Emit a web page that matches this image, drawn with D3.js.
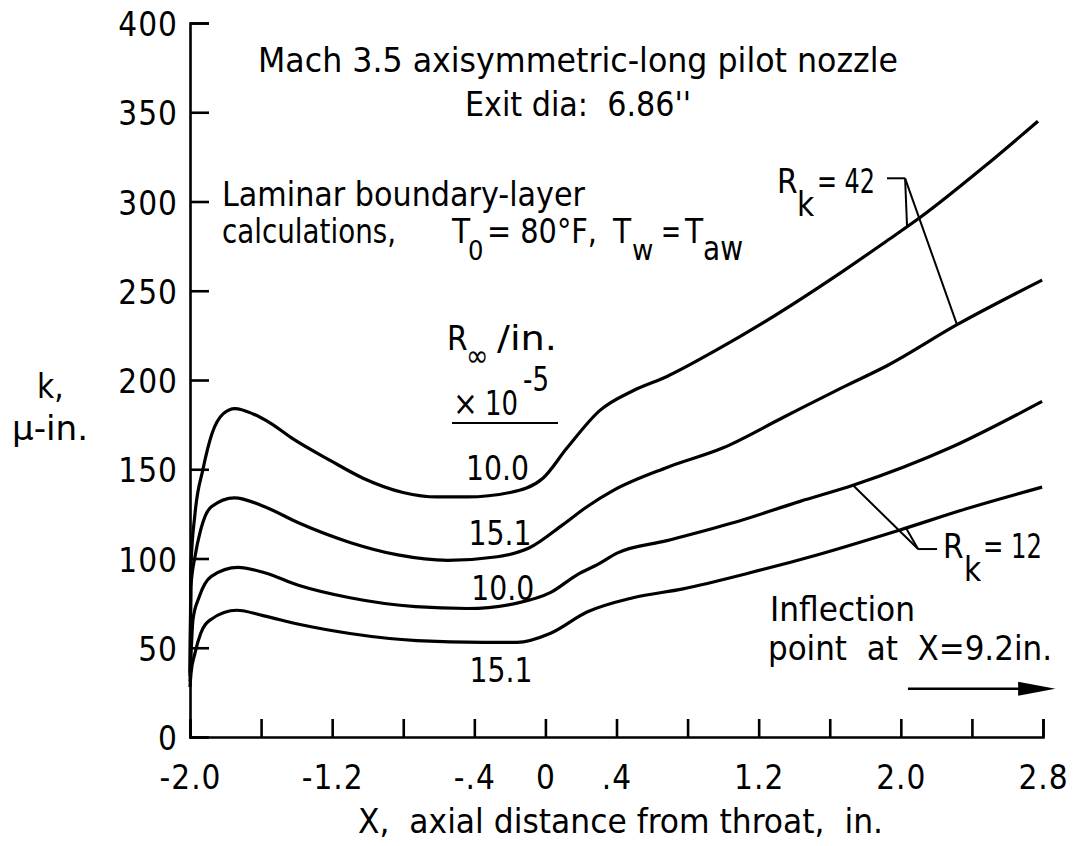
<!DOCTYPE html>
<html>
<head>
<meta charset="utf-8">
<script src="https://cdn.jsdelivr.net/npm/d3@7"></script>
<style>
  html, body { margin: 0; padding: 0; background: #fff; }
  svg { display: block; }
  text { font-family: "DejaVu Sans Condensed", "Liberation Sans Narrow", "DejaVu Sans", sans-serif; fill: #000; white-space: pre; }
</style>
</head>
<body>
<script>
// axis ticks
const xTickValues = [-2.0, -1.6, -1.2, -0.8, -0.4, 0, 0.4, 0.8, 1.2, 1.6, 2.0, 2.4, 2.8]
const xLabelValues = [-2.0, -1.2, -0.4, 0, 0.4, 1.2, 2.0, 2.8]
const xLabelText = ["-2.0", "-1.2", "-.4", "0", ".4", "1.2", "2.0", "2.8"]
const yTickValues = [0, 50, 100, 150, 200, 250, 300, 350, 400]

// k (micro-in.) vs X (in.)
// R_inf/in. = 10.0e5, Rk = 42
const series42a = [[-2.0, 36], [-1.995, 95], [-1.972, 125], [-1.927, 150], [-1.876, 170], [-1.814, 181],
    [-1.747, 184], [-1.645, 181], [-1.55, 176], [-1.42, 167], [-1.212, 155], [-1.026, 145], [-0.801, 137],
    [-0.61, 134.5], [-0.441, 134.5], [-0.199, 137], [-0.014, 145], [0.122, 162], [0.307, 183], [0.493, 194],
    [0.684, 202], [0.966, 217], [1.224, 232], [1.675, 261], [1.922, 278], [2.108, 291], [2.463, 319], [2.772, 345]]
// R_inf/in. = 15.1e5, Rk = 42
const series42b = [[-2.0, 34], [-1.995, 84], [-1.972, 101], [-1.94, 116], [-1.88, 129], [-1.75, 134],
    [-1.58, 129], [-1.39, 120], [-1.10, 109], [-0.83, 102], [-0.55, 99], [-0.27, 101], [-0.09, 106],
    [0.099, 119], [0.234, 129], [0.38, 138], [0.684, 151], [1.0, 162], [1.337, 179], [1.675, 196],
    [1.922, 208], [2.316, 231], [2.795, 256]]
// R_inf/in. = 10.0e5, Rk = 12
const series12a = [[-2.0, 31], [-1.983, 66], [-1.95, 78], [-1.88, 90], [-1.73, 95], [-1.58, 92],
    [-1.39, 85], [-1.10, 78], [-0.73, 73], [-0.44, 72], [-0.16, 75], [0.03, 81], [0.18, 91], [0.30, 97],
    [0.403, 103], [0.684, 110], [1.056, 120], [1.433, 132], [1.731, 141], [2.277, 162], [2.795, 188]]
// R_inf/in. = 15.1e5, Rk = 12
const series12b = [[-2.0, 28], [-1.994, 36], [-1.972, 47], [-1.94, 58], [-1.88, 66], [-1.737, 71],
    [-1.589, 68], [-1.381, 63], [-1.10, 58], [-0.723, 54], [-0.351, 53], [-0.16, 53], [0.026, 58],
    [0.234, 70], [0.493, 78], [0.774, 83], [1.151, 92], [1.528, 102], [1.995, 116], [2.373, 128], [2.795, 140]]

const curveNames = ["10.0", "15.1", "10.0", "15.1"]

const width = 1074, height = 846

const svg = d3.select("body").append("svg")
    .attr("width", width)
    .attr("height", height)

const x = d3.scaleLinear().domain([-2.0, 2.8]).range([190, 1043])
const y = d3.scaleLinear().domain([0, 400]).range([737, 23])

// axes
const xAxis = svg.append("g")
    .attr("transform", `translate(0,${y(0)})`)
    .call(d3.axisBottom(x)
        .tickValues(xTickValues)
        .tickSize(-18)
        .tickPadding(29)
        .tickFormat(d => {
            const i = xLabelValues.findIndex(v => Math.abs(v - d) < 1e-6)
            return i < 0 ? "" : xLabelText[i]
        }))

const yAxis = svg.append("g")
    .attr("transform", `translate(${x(-2.0)},0)`)
    .call(d3.axisLeft(y)
        .tickValues(yTickValues)
        .tickSize(-19)
        .tickPadding(12)
        .tickFormat(d3.format("d")))

for (const ax of [xAxis, yAxis]) {
    ax.attr("font-family", null).attr("font-size", null)
    ax.selectAll("path, line").attr("stroke", "#000").attr("stroke-width", 2.6)
    ax.selectAll("text").attr("font-size", 33).attr("fill", "#000").style("letter-spacing", "1px")
}
yAxis.selectAll("text").attr("dy", "0.38em")

// curves
const line = d3.line()
    .x(d => x(d[0]))
    .y(d => y(d[1]))
    .curve(d3.curveMonotoneX)

svg.append("g")
    .selectAll("path")
    .data([series42a, series42b, series12a, series12b])
    .join("path")
    .attr("d", line)
    .attr("fill", "none")
    .attr("stroke", "#000")
    .attr("stroke-width", 3.2)
    .attr("stroke-linejoin", "round")

function valueAt(series, xv) {
    for (let i = 1; i < series.length; i++) {
        const [x0, y0] = series[i - 1], [x1, y1] = series[i]
        if (xv <= x1) return y0 + (y1 - y0) * (xv - x0) / (x1 - x0)
    }
    return series[series.length - 1][1]
}

function label(txt, px, py, opts = {}) {
    const t = svg.append("text")
        .attr("x", px)
        .attr("y", py)
        .attr("font-size", opts.size || 33)
        .text(txt)
    if (opts.len) t.attr("textLength", opts.len).attr("lengthAdjust", "spacingAndGlyphs")
    if (opts.anchor) t.attr("text-anchor", opts.anchor)
    return t
}

// titles and notes
label("Mach 3.5 axisymmetric-long pilot nozzle", 258, 72, { len: 640 })
label("Exit dia:  6.86''", 465, 116, { len: 226 })
label("Laminar boundary-layer", 222, 206, { len: 363 })
label("calculations,", 222, 243, { len: 174 })
label("T", 452, 243)
label("0", 468, 260, { size: 27 })
label("= 80°F,", 487, 243, { len: 110 })
label("T", 613, 243)
label("w", 632, 260, { size: 29 })
label("=", 661, 243, { len: 20 })
label("T", 685, 243)
label("aw", 703, 260, { len: 40 })

// R_inf legend heading
label("R", 447, 350)
label("∞", 466, 366, { size: 30 })
label("/in.", 497, 350, { len: 60 })
label("×", 453, 415)
label("10", 485, 415, { len: 33 })
label("-5", 523, 391, { len: 26 })
svg.append("line")
    .attr("x1", 452).attr("x2", 558).attr("y1", 423).attr("y2", 423)
    .attr("stroke", "#000").attr("stroke-width", 2)

// curve labels
const labelSpots = [[-0.27, 144], [-0.255, 107.5], [-0.24, 76.5], [-0.25, 31]]
curveNames.forEach((n, i) => {
    label(n, x(labelSpots[i][0]), y(labelSpots[i][1]), { anchor: "middle", len: 63 })
})

// Rk = 42 leader
label("R", 777, 193)
label("k", 797, 216)
label("= 42", 817, 193, { len: 58 })
const lead = svg.append("g").attr("stroke", "#000").attr("stroke-width", 2).attr("fill", "none")
const j42 = [x(2.024), y(313)]
lead.append("line").attr("x1", x(1.922)).attr("y1", j42[1]).attr("x2", j42[0]).attr("y2", j42[1])
lead.append("line").attr("x1", j42[0]).attr("y1", j42[1]).attr("x2", x(2.035)).attr("y2", y(valueAt(series42a, 2.035)))
lead.append("line").attr("x1", j42[0]).attr("y1", j42[1]).attr("x2", x(2.316)).attr("y2", y(valueAt(series42b, 2.316)))

// Rk = 12 leader
label("R", 943, 558)
label("k", 964, 581)
label("= 12", 983, 558, { len: 59 })
const j12 = [x(2.097), y(105.3)]
lead.append("line").attr("x1", j12[0]).attr("y1", j12[1]).attr("x2", x(2.204)).attr("y2", j12[1])
lead.append("line").attr("x1", j12[0]).attr("y1", j12[1]).attr("x2", x(1.731)).attr("y2", y(valueAt(series12a, 1.731)))
lead.append("line").attr("x1", j12[0]).attr("y1", j12[1]).attr("x2", x(2.029)).attr("y2", y(valueAt(series12b, 2.029)))

// inflection note and arrow
label("Inflection", 770, 621, { len: 145 })
label("point  at  X=9.2in.", 768, 660, { len: 284 })
svg.append("line")
    .attr("x1", x(2.04)).attr("x2", x(2.7)).attr("y1", y(27)).attr("y2", y(27))
    .attr("stroke", "#000").attr("stroke-width", 2.4)
svg.append("path")
    .attr("d", d3.line()([[x(2.66), y(27) - 7], [x(2.87), y(27)], [x(2.66), y(27) + 7]]) + "Z")
    .attr("fill", "#000")

// axis titles
label("X,  axial distance from throat,  in.", 358, 833, { len: 525 })
label("k,", 37, 398)
label("μ-in.", 12, 440, { len: 76 })
</script>
</body>
</html>
